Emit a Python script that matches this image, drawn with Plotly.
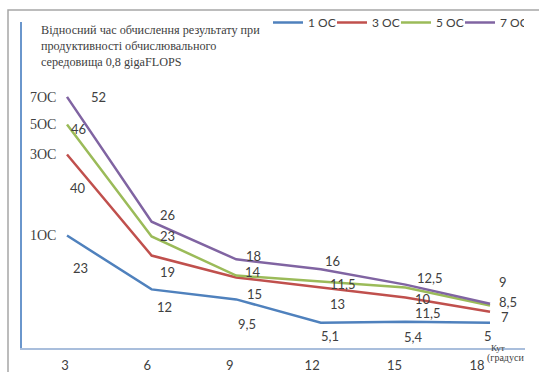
import plotly.graph_objects as go

# ---- data ----
angles = [3, 6, 9, 12, 15, 18]
angle_labels = ["3", "6", "9", "12", "15", "18"]

series_names = ["1 OC", "3 OC", "5 OC", "7 OC"]
oc1 = [22.9, 11.6, 9.5, 4.6, 4.8, 4.6]
oc3 = [39.9, 18.7, 14.1, 12.0, 9.9, 6.9]
oc5 = [46.2, 22.7, 14.5, 13.2, 12.0, 8.2]
oc7 = [52.0, 25.8, 17.9, 15.8, 12.6, 8.6]

# data labels as printed on the chart
oc1_text = ["23", "12", "9,5", "5,1", "5,4", "5"]
oc3_text = ["40", "19", "15", "13", "11,5", "7"]
oc5_text = ["46", "23", "14", "11,5", "10", "8,5"]
oc7_text = ["52", "26", "18", "16", "12,5", "9"]

ytick_vals = [22.9, 39.9, 46.2, 52.0]
ytick_text = ["1OC", "3OC", "5OC", "7OC"]

title_text = ("Відносний час обчислення результату при<br>"
              "продуктивності обчислювального<br>"
              "середовища 0,8 gigaFLOPS")

# ---- style ----
colors = ["#4F81BD", "#C0504D", "#9BBB59", "#8064A2"]
# label offsets in px (dx right, dy down) per series/point
offsets = [
    [(13, 32), (13, 18), (11, 25), (9, 13), (8, 15), (-2, 13)],
    [(11, 33), (16, 16), (18, 17), (17, 17), (23, 16), (15, 5)],
    [(11, 5), (16, 0), (17, -4), (22, 2), (18, 12), (18, -4)],
    [(31, 0), (16, -7), (17, -3), (12, -8), (25, -7), (13, -22)],
]

series = [oc1, oc3, oc5, oc7]
texts = [oc1_text, oc3_text, oc5_text, oc7_text]

W, H = 539, 372
L, R, T, B = 22, 14, 22, 24  # plot area 22..525 x 22..348

fig = go.Figure()
for name, vals, col in zip(series_names, series, colors):
    fig.add_trace(go.Scatter(x=angles, y=vals, name=name, mode="lines",
                             line=dict(color=col, width=2.5),
                             hoverinfo="skip"))
# invisible trace to carry the tick-label axis
fig.add_trace(go.Scatter(x=angles, y=[None] * len(angles), xaxis="x2",
                         showlegend=False, hoverinfo="skip", mode="lines"))

annotations = []
for vals, txt, offs in zip(series, texts, offsets):
    for xv, yv, t, (dx, dy) in zip(angles, vals, txt, offs):
        annotations.append(dict(x=xv, y=yv, xref="x", yref="y", text=t,
                                showarrow=False, xshift=dx, yshift=-dy,
                                font=dict(family="Lato", size=13, color="#404040")))

pw = W - L - R
ph = H - T - B
def px_x(p):
    return (p - L) / pw
def px_y(p):
    return (H - B - p) / ph

serif = "Liberation Serif"
annotations.append(dict(x=px_x(39), y=px_y(21), xref="paper", yref="paper",
                        xanchor="left", yanchor="top", align="left",
                        text=title_text, showarrow=False,
                        font=dict(family=serif, size=12.2, color="#404040")))
annotations.append(dict(x=px_x(507), y=px_y(355), xref="paper", yref="paper",
                        text="Кут", showarrow=False,
                        font=dict(family=serif, size=9, color="#404040")))
annotations.append(dict(x=px_x(485), y=px_y(366), xref="paper", yref="paper",
                        xanchor="left", text="(градуси", showarrow=False,
                        font=dict(family=serif, size=10, color="#404040")))

shapes = [dict(type="rect", xref="paper", yref="paper",
               x0=px_x(8), x1=px_x(560), y0=px_y(400), y1=px_y(10),
               line=dict(color="#A6A6A6", width=1.5), layer="below")]

fig.update_layout(
    width=W, height=H,
    margin=dict(l=L, r=R, t=T, b=B, pad=0, autoexpand=False),
    paper_bgcolor="white", plot_bgcolor="white",
    xaxis=dict(range=[1.404, 19.24], showgrid=False, zeroline=False,
               showticklabels=False, ticks="", showline=True,
               linecolor="#A9BEDC", linewidth=1.5),
    xaxis2=dict(range=[1.435, 19.75], overlaying="x", anchor="y", side="bottom",
                tickvals=angles, ticktext=angle_labels, showgrid=False,
                zeroline=False, showline=False, ticks="",
                ticklabelstandoff=8,
                tickfont=dict(family="Lato", size=13, color="#404040")),
    yaxis=dict(range=[-0.7, 67.7], showgrid=False, zeroline=False,
               tickvals=ytick_vals, ticktext=ytick_text,
               ticklabelposition="inside", ticks="",
               ticklabelstandoff=8,
               showline=True, linecolor="#6A96CC",
               linewidth=1.5,
               tickfont=dict(family="Liberation Serif", size=14, color="#404040")),
    legend=dict(orientation="h", xref="container", yref="container",
                x=268 / W, y=1 - 8 / H, xanchor="left",
                yanchor="top", font=dict(family="Lato", size=12, color="#404040"),
                entrywidth=19, entrywidthmode="pixels", bgcolor="rgba(0,0,0,0)"),
    annotations=annotations,
    shapes=shapes,
    showlegend=True,
)

fig.write_html("out.html",
               config={"displayModeBar": False},
               post_script="document.body.style.margin='0';")
